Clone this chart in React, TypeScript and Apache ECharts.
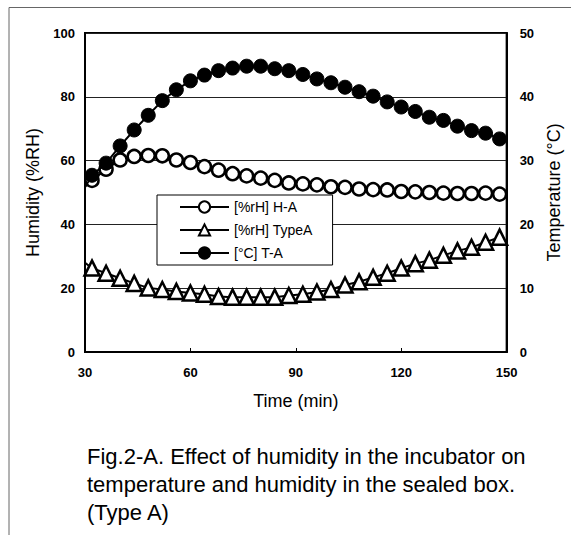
import React, { useEffect, useRef } from "react";
import * as echarts from "echarts";

const times = [28, 32, 36, 40, 44, 48, 52, 56, 60, 64, 68, 72, 76, 80, 84, 88, 92, 96, 100, 104, 108, 112, 116, 120, 124, 128, 132, 136, 140, 144, 148];
const humidityHA = [50, 53.8, 57.3, 60.2, 61.3, 61.6, 61.5, 60.2, 59.4, 58.1, 57.0, 55.9, 55.2, 54.5, 53.8, 53.0, 52.7, 52.4, 51.8, 51.6, 51.1, 50.9, 50.8, 50.3, 50.2, 50.0, 49.8, 49.7, 49.7, 49.8, 49.5];
const humidityTypeA = [29.7, 26.3, 24.7, 23.1, 21.5, 20.1, 19.6, 19.0, 18.5, 18.1, 17.4, 17.2, 17.2, 17.2, 17.2, 17.7, 18.1, 18.8, 19.6, 21.0, 22.0, 23.4, 24.7, 26.3, 27.7, 28.8, 30.3, 31.7, 32.8, 34.4, 36.0];
const temperatureTA = [23.9, 27.7, 29.6, 32.3, 34.8, 37.1, 39.4, 41.1, 42.5, 43.4, 44.1, 44.5, 44.8, 44.8, 44.4, 44.1, 43.5, 42.8, 42.2, 41.5, 40.8, 40.1, 39.2, 38.4, 37.7, 36.8, 36.3, 35.4, 34.7, 34.3, 33.4];

const seriesNames = ["[%rH] H-A", "[%rH] TypeA", "[°C] T-A"];
const captionLines = [
  "Fig.2-A. Effect of humidity in the incubator on",
  "temperature and humidity in the sealed box.",
  "(Type A)",
];

const FONT = "'Liberation Sans', Arial, sans-serif";

export default function App() {
  const ref = useRef<HTMLDivElement>(null);
  useEffect(() => {
    document.body.style.margin = "0";
    if (!ref.current) return;
    const chart = echarts.init(ref.current, undefined, { renderer: "svg" });
    const pair = (ys: number[]) => times.map((t, i) => [t, ys[i]]);
    const labelStyle = { color: "#000", fontSize: 13, fontWeight: "bold" as const, fontFamily: FONT };
    const nameStyle = { color: "#000", fontSize: 18, fontFamily: FONT };
    chart.setOption({
      animation: false,
      backgroundColor: "#fff",
      textStyle: { fontFamily: FONT, color: "#000" },
      grid: {
        left: 85,
        right: 571 - 512,
        top: 33,
        bottom: 535 - 352,
        show: true,
        borderColor: "#000",
        borderWidth: 2,
        backgroundColor: "transparent",
      },
      legend: {
        left: 157,
        top: 195,
        orient: "vertical",
        data: seriesNames,
        backgroundColor: "#fff",
        borderColor: "#000",
        borderWidth: 1,
        borderRadius: 0,
        padding: [5, 20, 5, 22],
        itemWidth: 49,
        itemHeight: 14,
        itemGap: 9,
        textStyle: { color: "#000", fontSize: 14, fontFamily: FONT },
      },
      xAxis: {
        type: "value",
        min: 30,
        max: 150,
        interval: 30,
        name: "Time (min)",
        nameLocation: "middle",
        nameGap: 40,
        nameTextStyle: nameStyle,
        axisLine: { show: true, lineStyle: { color: "#000", width: 2 } },
        axisTick: { show: true, inside: true, length: 4, lineStyle: { color: "#000" } },
        axisLabel: { ...labelStyle, margin: 14 },
        splitLine: { show: false },
      },
      yAxis: [
        {
          type: "value",
          min: 0,
          max: 100,
          interval: 20,
          name: "Humidity (%RH)",
          nameLocation: "middle",
          nameGap: 41,
          nameTextStyle: nameStyle,
          axisLine: { show: true, lineStyle: { color: "#000", width: 2 } },
          axisTick: { show: false },
          axisLabel: { ...labelStyle, margin: 10 },
          splitLine: { show: true, lineStyle: { color: "#222", width: 1 } },
        },
        {
          type: "value",
          min: 0,
          max: 50,
          interval: 10,
          position: "right",
          name: "Temperature (°C)",
          nameLocation: "middle",
          nameGap: 38,
          nameTextStyle: nameStyle,
          axisLine: { show: true, lineStyle: { color: "#000", width: 2 } },
          axisTick: { show: false },
          axisLabel: { ...labelStyle, margin: 13 },
          splitLine: { show: false },
        },
      ],
      series: [
        {
          name: seriesNames[0],
          type: "line",
          yAxisIndex: 0,
          data: pair(humidityHA),
          clip: true,
          symbol: "circle",
          symbolSize: 13,
          lineStyle: { color: "#000", width: 2 },
          itemStyle: { color: "#fff", borderColor: "#000", borderWidth: 2.5 },
          z: 2,
        },
        {
          name: seriesNames[1],
          type: "line",
          yAxisIndex: 0,
          data: pair(humidityTypeA),
          clip: true,
          symbol: "triangle",
          symbolSize: 15,
          lineStyle: { color: "#000", width: 2 },
          itemStyle: { color: "#fff", borderColor: "#000", borderWidth: 2.5 },
          z: 3,
        },
        {
          name: seriesNames[2],
          type: "line",
          yAxisIndex: 1,
          data: pair(temperatureTA),
          clip: true,
          symbol: "circle",
          symbolSize: 14,
          lineStyle: { color: "#000", width: 2 },
          itemStyle: { color: "#000", borderColor: "#000", borderWidth: 1 },
          z: 4,
        },
      ],
      graphic: [
        { type: "line", shape: { x1: 9, y1: 7.5, x2: 571, y2: 7.5 }, style: { stroke: "#666", lineWidth: 1 } },
        { type: "line", shape: { x1: 9, y1: 7.5, x2: 9, y2: 535 }, style: { stroke: "#666", lineWidth: 1 } },
        ...captionLines.map((t, i) => ({
          type: "text",
          left: 87,
          top: 445 + i * 28,
          style: { text: t, fill: "#000", font: `22px ${FONT}` },
        })),
      ],
    });
    return () => chart.dispose();
  }, []);
  return <div ref={ref} style={{ width: 571, height: 535 }} />;
}
